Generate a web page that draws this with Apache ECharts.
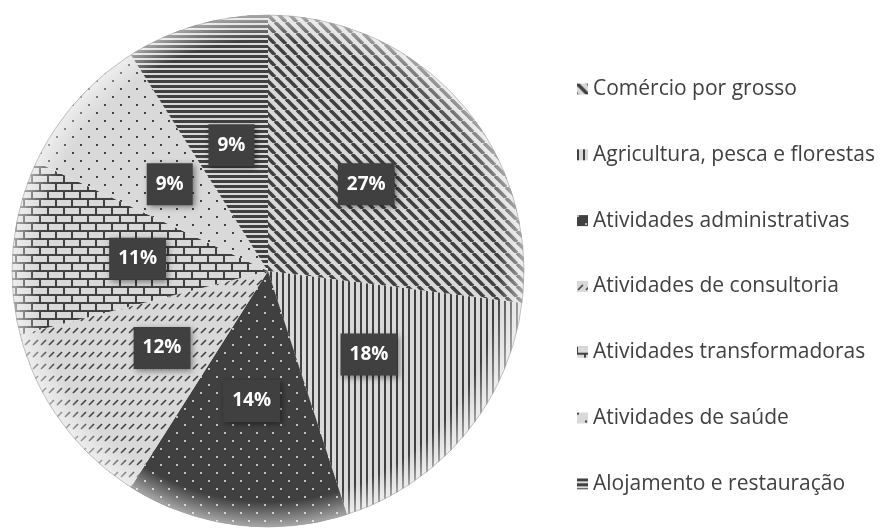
<!DOCTYPE html>
<html>
<head>
<meta charset="utf-8">
<script src="https://cdn.jsdelivr.net/npm/echarts@6/dist/echarts.min.js"></script>
<style>html,body{margin:0;padding:0;background:#fff}#c{width:882px;height:531px}</style>
</head>
<body>
<div id="c"></div>
<script>
const categories = ["Comércio por grosso","Agricultura, pesca e florestas","Atividades administrativas","Atividades de consultoria","Atividades transformadoras","Atividades de saúde","Alojamento e restauração"];
const values = [27, 18, 14, 12, 11, 9, 9];

const LIGHT = '#d9d9d9', DARK = '#404040';
function tile(w, h, bg, draw) {
  const c = document.createElement('canvas');
  c.width = w; c.height = h;
  const g = c.getContext('2d');
  g.fillStyle = bg; g.fillRect(0, 0, w, h);
  draw(g);
  return c;
}
const patterns = [
  tile(11, 11, LIGHT, g => { g.strokeStyle = DARK; g.lineWidth = 3.6; for (const k of [-11, 0, 11]) { g.beginPath(); g.moveTo(k, 0); g.lineTo(k + 11, 11); g.stroke(); } }),
  tile(6, 4, LIGHT, g => { g.fillStyle = DARK; g.fillRect(0, 0, 2, 4); }),
  tile(16, 16, DARK, g => { g.fillStyle = '#bfbfbf'; g.fillRect(0, 0, 2, 2); g.fillRect(8, 8, 2, 2); }),
  tile(8, 12, LIGHT, g => { g.strokeStyle = DARK; g.lineWidth = 1.6; g.beginPath(); g.moveTo(1, 9); g.lineTo(6, 4); g.stroke(); }),
  tile(16, 16, DARK, g => { g.fillStyle = LIGHT; g.fillRect(1, 0, 14, 6); g.fillRect(9, 8, 7, 6); g.fillRect(0, 8, 7, 6); }),
  tile(16, 16, LIGHT, g => { g.fillStyle = DARK; g.fillRect(0, 0, 2, 2); g.fillRect(8, 8, 2, 2); }),
  tile(4, 5, LIGHT, g => { g.fillStyle = DARK; g.fillRect(0, 0, 4, 3); })
];

const chart = echarts.init(document.getElementById('c'), null, { renderer: 'canvas' });
const FONT = 'Open Sans';
chart.setOption({
  animation: false,
  legend: {
    orient: 'vertical',
    left: 577,
    top: 77,
    padding: 0,
    itemWidth: 11,
    itemHeight: 11,
    itemGap: 41.8,
    icon: 'rect',
    data: categories,
    textStyle: { fontFamily: FONT, fontSize: 21, color: '#404040', lineHeight: 24 }
  },
  series: [
    {
      type: 'pie',
      center: [268, 271],
      radius: [0, 256],
      startAngle: 90,
      clockwise: true,
      avoidLabelOverlap: false,
      data: categories.map((n, i) => ({ name: n, value: values[i], itemStyle: { color: { image: patterns[i], repetition: 'repeat' } } })),
      itemStyle: { borderWidth: 0 },
      label: {
        show: true,
        position: 'inside',
        formatter: '{d}%',
        color: '#fff',
        fontFamily: FONT,
        fontWeight: 'bold',
        fontSize: 19,
        lineHeight: 20,
        backgroundColor: '#404040',
        padding: [11, 9],
        shadowColor: 'rgba(0,0,0,0.45)',
        shadowBlur: 6,
        shadowOffsetX: 2,
        shadowOffsetY: 2
      },
      labelLine: { show: false },
      emphasis: { disabled: true }
    },
    {
      type: 'pie',
      silent: true,
      center: [268, 271],
      radius: [0, 256],
      z: 3,
      label: { show: false },
      labelLine: { show: false },
      data: [{ name: '_glow', value: 1, itemStyle: { color: { type: 'radial', x: 0.5, y: 0.5, r: 0.5, colorStops: [
        { offset: 0, color: 'rgba(255,255,255,0)' },
        { offset: 0.9, color: 'rgba(255,255,255,0)' },
        { offset: 1, color: 'rgba(255,255,255,0.55)' }
      ] }, borderColor: 'rgba(160,160,160,0.6)', borderWidth: 1 } }],
      emphasis: { disabled: true }
    }
  ]
});
</script>
</body>
</html>
